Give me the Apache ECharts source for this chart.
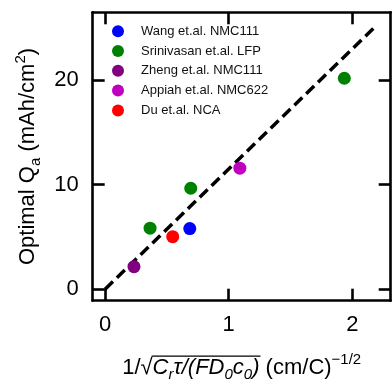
<!DOCTYPE html>
<html>
<head>
<meta charset="utf-8">
<script src="https://cdn.jsdelivr.net/npm/echarts@6/dist/echarts.min.js"></script>
<style>
html,body{margin:0;padding:0;background:#fff;}
#c{width:392px;height:382px;}
</style>
</head>
<body>
<div id="c"></div>
<script>
// Data
var seriesNames = ['Wang et.al. NMC111', 'Srinivasan et.al. LFP', 'Zheng et.al. NMC111', 'Appiah et.al. NMC622', 'Du et.al. NCA'];
var seriesColors = ['#0000ff', '#008000', '#800080', '#bf00bf', '#ff0000'];
var wang = [[0.685, 5.8]];
var srinivasan = [[0.364, 5.84], [0.693, 9.66], [1.935, 20.19]];
var zheng = [[0.234, 2.16]];
var appiah = [[1.09, 11.58]];
var du = [[0.547, 5.03]];
var fitLine = [[0, 0], [2.2, 25.3]];
var xTicks = [0, 1, 2];
var yTicks = [0, 10, 20];

var FONT = '"Liberation Sans", Arial, sans-serif';
var FS = 22, FSS = 15, LH = 30;
var chart = echarts.init(document.getElementById('c'), null, {renderer: 'canvas'});

var groups = [wang, srinivasan, zheng, appiah, du];
var scatterSeries = groups.map(function (g, i) {
  return {
    name: seriesNames[i],
    type: 'scatter',
    data: g,
    symbolSize: 13,
    itemStyle: {color: seriesColors[i], opacity: 1},
    z: 5
  };
});

var GRID = {left: 92.7, right: 1.3, top: 12.3, bottom: 81.3};
var axisLineStyle = {color: '#000', width: 2.6};
function mkX(pos, showLabel) {
  return {
    type: 'value', position: pos, min: -0.1, max: 2.31,
    axisLine: {show: true, onZero: false, lineStyle: axisLineStyle},
    axisTick: {show: true, inside: true, length: 12, customValues: xTicks, lineStyle: {color: '#000', width: 2.6}},
    axisLabel: {show: showLabel, customValues: xTicks, fontSize: 22, color: '#000', fontFamily: FONT, margin: 13.5},
    splitLine: {show: false}
  };
}
function mkY(pos, showLabel) {
  return {
    type: 'value', position: pos, min: -1.1, max: 26.5,
    axisLine: {show: true, onZero: false, lineStyle: axisLineStyle},
    axisTick: {show: true, inside: true, length: 12, customValues: yTicks, lineStyle: {color: '#000', width: 2.6}},
    axisLabel: {show: showLabel, customValues: yTicks, fontSize: 22, color: '#000', fontFamily: FONT, margin: 14},
    splitLine: {show: false}
  };
}

var richBase = {
  n: {fontSize: FS, fontFamily: FONT, color: '#000', lineHeight: LH},
  it: {fontSize: FS, fontStyle: 'italic', fontFamily: FONT, color: '#000', lineHeight: LH},
  itsub: {fontSize: FSS, fontStyle: 'italic', fontFamily: FONT, color: '#000', verticalAlign: 'bottom', lineHeight: 19},
  sub: {fontSize: FSS, fontFamily: FONT, color: '#000', verticalAlign: 'bottom', lineHeight: 19},
  sup: {fontSize: FSS, fontFamily: FONT, color: '#000', verticalAlign: 'top', lineHeight: 22}
};

var xNameParts = [
  ['n', '1/√'],
  ['it', 'C'], ['itsub', 'r'], ['it', 'τ/(FD'], ['itsub', '0'], ['it', 'c'], ['itsub', '0'], ['it', ')'],
  ['n', ' (cm/C)'], ['sup', '−1/2']
];
var xName = xNameParts.map(function (p) { return '{' + p[0] + '|' + p[1] + '}'; }).join('');

// measure segment widths to place the square-root overline
var ctx = document.createElement('canvas').getContext('2d');
function w(p) {
  var st = richBase[p[0]];
  ctx.font = (st.fontStyle === 'italic' ? 'italic ' : '') + st.fontSize + 'px ' + FONT;
  return ctx.measureText(p[1]).width;
}
var widths = xNameParts.map(w);
var total = widths.reduce(function (a, b) { return a + b; }, 0);
var plotW = 392 - GRID.left - GRID.right;
var cx = GRID.left + plotW / 2;
var startX = cx - total / 2;
var olStart = startX + widths[0] - 1;
var olEnd = startX + widths.slice(0, 8).reduce(function (a, b) { return a + b; }, 0) + 1;
var X_NAME_GAP = 52;
var axisY = 382 - GRID.bottom;
var olY = axisY + X_NAME_GAP + 3.5;

var xBottom = mkX('bottom', true);
xBottom.name = xName;
xBottom.nameLocation = 'middle';
xBottom.nameGap = X_NAME_GAP;
xBottom.nameTextStyle = {fontSize: FS, color: '#000', fontFamily: FONT, lineHeight: LH, rich: richBase};
var xTop = mkX('top', false);

var yLeft = mkY('left', true);
yLeft.name = '{n|Optimal Q}{sub|a}{n| (mAh/cm}{sup|2}{n|)}';
yLeft.nameLocation = 'middle';
yLeft.nameGap = 46;
yLeft.nameTextStyle = {fontSize: FS, color: '#000', fontFamily: FONT, lineHeight: LH, rich: richBase};
var yRight = mkY('right', false);

var option = {
  backgroundColor: '#fff',
  animation: false,
  textStyle: {fontFamily: FONT},
  grid: {left: GRID.left, right: GRID.right, top: GRID.top, bottom: GRID.bottom, containLabel: false, outerBoundsMode: 'none'},
  legend: {
    data: seriesNames,
    orient: 'vertical',
    left: 107, top: 19.7,
    icon: 'circle',
    itemWidth: 12, itemHeight: 12, itemGap: 6.8,
    textStyle: {fontSize: 13, color: '#111', fontFamily: FONT, lineHeight: 12, padding: [0, 0, 0, 12]}
  },
  xAxis: [xBottom, xTop],
  yAxis: [yLeft, yRight],
  series: [{
    type: 'line',
    data: fitLine,
    symbol: 'none',
    lineStyle: {color: '#000', width: 3.5, type: [11, 5.5]},
    z: 2,
    silent: true
  }].concat(scatterSeries),
  graphic: [{
    type: 'line',
    shape: {x1: olStart, y1: olY, x2: olEnd, y2: olY},
    style: {stroke: '#000', lineWidth: 1.2}
  }]
};
chart.setOption(option);
</script>
</body>
</html>
